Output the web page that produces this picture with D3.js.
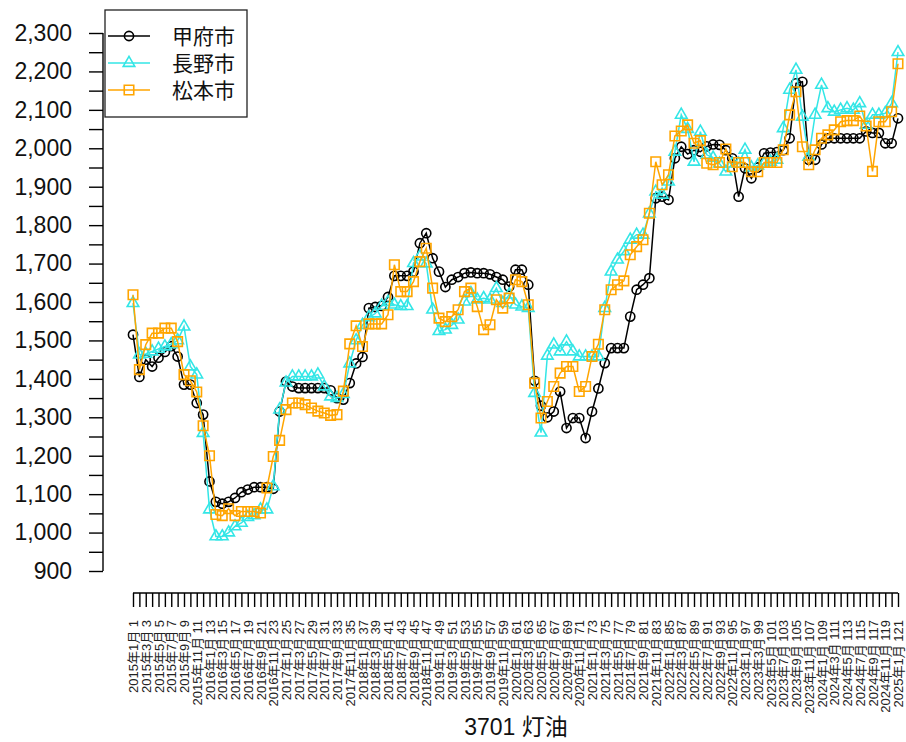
<!DOCTYPE html>
<html>
<head>
<meta charset="utf-8">
<script src="https://cdn.jsdelivr.net/npm/d3@7"></script>
<style>
body { margin: 0; background: #fff; }
text { font-family: "Liberation Sans", Arial, "Noto Sans CJK JP", sans-serif; }
</style>
</head>
<body>
<div id="chart-area"></div>
<script>
// 灯油 prices, Jan 2015 - Jan 2025 (121 months)
var kofu = [1515,1405,1450,1432,1455,1470,1485,1458,1385,1385,1337,1307,1133,1080,1075,1080,1090,1105,1112,1118,
    1118,1118,1114,1315,1393,1380,1376,1376,1376,1376,1376,1370,1350,1346,1389,1440,1457,1584,1587,1590,
    1613,1668,1668,1668,1679,1753,1779,1714,1679,1639,1658,1665,1675,1677,1675,1675,1672,1665,1658,1640,
    1684,1684,1645,1395,1330,1300,1315,1367,1272,1298,1298,1246,1315,1375,1441,1480,1480,1480,1562,1632,
    1645,1662,1870,1874,1866,1974,2004,1985,1995,1991,2005,2010,2009,1995,1974,1874,1948,1922,1950,1987,
    1989,1990,1995,2026,2169,2173,1970,1970,2010,2026,2026,2026,2026,2026,2026,2044,2040,2040,2013,2013,
    2078];
var nagano = [1597,1463,1465,1471,1478,1484,1490,1500,1536,1432,1411,1259,1060,990,990,1000,1016,1025,1040,1045,
    1060,1060,1120,1320,1390,1406,1406,1406,1406,1411,1380,1354,1350,1360,1440,1500,1540,1560,1570,1590,
    1600,1593,1589,1589,1701,1718,1700,1580,1524,1528,1540,1554,1601,1623,1606,1610,1606,1636,1597,1619,
    1593,1588,1584,1363,1260,1460,1489,1471,1497,1471,1458,1458,1458,1458,1584,1679,1710,1732,1762,1775,
    1775,1830,1887,1879,1913,1991,2087,2050,1965,2043,1983,1975,1960,1939,1960,1960,1996,1950,1955,1960,
    1965,1970,2052,2152,2204,2082,1978,2087,2165,2104,2095,2100,2104,2100,2117,2061,2087,2087,2091,2117,
    2250];
var matsumoto = [1619,1424,1489,1519,1519,1532,1532,1497,1411,1395,1366,1278,1200,1047,1044,1062,1044,1055,1055,1055,
    1051,1116,1198,1240,1320,1337,1337,1333,1324,1316,1311,1305,1307,1368,1491,1538,1484,1543,1543,1543,
    1567,1697,1627,1627,1653,1705,1740,1636,1558,1549,1562,1580,1627,1636,1588,1528,1541,1606,1584,1610,
    1658,1653,1593,1389,1298,1341,1380,1415,1432,1432,1367,1380,1458,1490,1580,1632,1645,1655,1723,1744,
    1762,1831,1965,1905,1931,2032,2045,2061,2013,2020,1961,1957,1963,1998,1952,1963,1963,1939,1939,1963,
    1963,1963,1996,2087,2147,2004,1957,1996,2026,2035,2048,2069,2072,2072,2084,2058,1940,2069,2069,2095,
    2220];

var cities = ["甲府市", "長野市", "松本市"];
var years = [2015, 2016, 2017, 2018, 2019, 2020, 2021, 2022, 2023, 2024, 2025];
var monthNums = [1,2,3,4,5,6,7,8,9,10,11,12];
var yTicks = [900,950,1000,1050,1100,1150,1200,1250,1300,1350,1400,1450,1500,1550,1600,
    1650,1700,1750,1800,1850,1900,1950,2000,2050,2100,2150,2200,2250,2300];
var chartTitle = "3701 灯油";

// month labels "2015年1月" ... built from the year/month lists
var months = [];
years.forEach(function(y) {
    monthNums.forEach(function(m) { months.push(y + "年" + m + "月"); });
});
months = months.slice(0, kofu.length);

var width = 906, height = 742;

var svg = d3.select("#chart-area").append("svg")
    .attr("width", width)
    .attr("height", height);

// Scales
var x = d3.scalePoint().domain(d3.range(kofu.length)).range([133, 898]);
var y = d3.scaleLinear().domain([900, 2300]).range([571, 33]);

// Y axis
var yAxis = svg.append("g")
    .attr("transform", "translate(103,0)")
    .call(d3.axisLeft(y)
        .tickValues(yTicks)
        .tickSize(14)
        .tickPadding(17)
        .tickFormat(function(d) { return d % 100 === 0 ? d3.format(",")(d) : ""; }));
yAxis.select(".domain").attr("stroke-width", 1.4).attr("d", "M0," + y(900) + "V" + y(2300));
yAxis.selectAll(".tick line").attr("stroke-width", 1.4);
yAxis.selectAll("text").attr("font-size", "23px").attr("fill", "#111");

// X axis
var xAxis = svg.append("g")
    .attr("transform", "translate(0,593)")
    .call(d3.axisBottom(x)
        .tickSize(14)
        .tickFormat(function(d) { return d % 2 === 0 ? months[d] + " " + (d + 1) : ""; }));
xAxis.select(".domain").attr("stroke-width", 1.4).attr("d", "M" + x(0) + ",0H" + x(kofu.length - 1));
xAxis.selectAll(".tick line").attr("stroke-width", 1.4);
xAxis.selectAll("text")
    .attr("font-size", "13px")
    .attr("fill", "#222")
    .attr("transform", "rotate(-90)")
    .attr("x", -27)
    .attr("y", 0)
    .attr("dy", "0.35em")
    .style("text-anchor", "end");

// Title under the axis
svg.append("text")
    .attr("x", 516)
    .attr("y", 735)
    .attr("text-anchor", "middle")
    .attr("font-size", "23px")
    .attr("fill", "#111")
    .text(chartTitle);

// Series
var series = [
    { name: cities[0], values: kofu, color: "#000000", symbol: d3.symbolCircle, size: 66 },
    { name: cities[1], values: nagano, color: "#33e6e6", symbol: d3.symbolTriangle, size: 58 },
    { name: cities[2], values: matsumoto, color: "#ffa500", symbol: d3.symbolSquare, size: 90 }
];

var line = d3.line()
    .x(function(d, i) { return x(i); })
    .y(function(d) { return y(d); });

series.forEach(function(s) {
    var g = svg.append("g");
    g.append("path")
        .attr("d", line(s.values))
        .attr("fill", "none")
        .attr("stroke", s.color)
        .attr("stroke-width", 1.5);
    g.selectAll("path.pt")
        .data(s.values)
        .enter().append("path")
        .attr("class", "pt")
        .attr("transform", function(d, i) { return "translate(" + x(i) + "," + y(d) + ")"; })
        .attr("d", d3.symbol().type(s.symbol).size(s.size))
        .attr("fill", "none")
        .attr("stroke", s.color)
        .attr("stroke-width", 1.6);
});

// Legend
var legend = svg.append("g");
legend.append("rect")
    .attr("x", 105).attr("y", 10)
    .attr("width", 142).attr("height", 107)
    .attr("fill", "#fff")
    .attr("stroke", "#222")
    .attr("stroke-width", 1.3);

series.forEach(function(s, i) {
    var ly = 36 + i * 27;
    legend.append("line")
        .attr("x1", 108).attr("x2", 150)
        .attr("y1", ly).attr("y2", ly)
        .attr("stroke", s.color)
        .attr("stroke-width", 1.5);
    legend.append("path")
        .attr("transform", "translate(129," + ly + ")")
        .attr("d", d3.symbol().type(s.symbol).size(s.size))
        .attr("fill", "none")
        .attr("stroke", s.color)
        .attr("stroke-width", 1.6);
    legend.append("text")
        .attr("x", 172)
        .attr("y", ly + 8)
        .attr("font-size", "21px")
        .attr("fill", "#111")
        .text(s.name);
});
</script>
</body>
</html>
